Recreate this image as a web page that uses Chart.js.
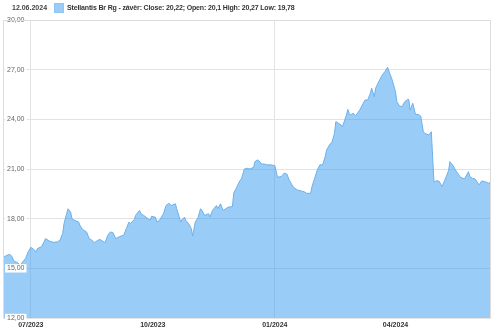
<!DOCTYPE html>
<html>
<head>
<meta charset="utf-8">
<script src="https://cdn.jsdelivr.net/npm/chart.js@4"></script>
<style>
  body { margin: 0; background: #fff; font-family: "Liberation Sans", Arial, sans-serif; }
  #wrap { position: relative; width: 500px; height: 330px; }
  #head { position: absolute; left: 0; top: 0; height: 16px; font-size: 7px; font-weight: bold; color: #333; }
  #head .date { position: absolute; left: 12px; top: 4px; color: #444; }
  #head .box { position: absolute; left: 54px; top: 3px; width: 8px; height: 8px; background: #99ccf6; border: 1px solid #8ec5f2; }
  #head .txt { position: absolute; left: 67px; top: 4px; white-space: nowrap; letter-spacing: -0.15px; }
</style>
</head>
<body>
<div id="wrap">
  <canvas id="stockChart" width="500" height="330"></canvas>
  <div id="head">
    <span class="date">12.06.2024</span>
    <span class="box"></span>
    <span class="txt" id="seriesName"></span>
  </div>
</div>
<script>
// series name as shown in the legend
const seriesName = 'Stellantis Br Rg - závěr: Close: 20,22; Open: 20,1 High: 20,27 Low: 19,78';

// day offsets from 10.06.2023 and closing prices
const days = [0, 2, 5, 7, 8, 11, 13, 14, 17, 19, 21, 23, 25, 26, 29, 31, 32, 35, 38, 41,
  43, 45, 46, 48, 49, 51, 52, 54, 57, 58, 60, 63, 65, 67, 69, 71, 73, 74, 77, 79,
  81, 83, 85, 87, 89, 91, 93, 95, 96, 99, 100, 103, 104, 106, 108, 111, 112, 115, 116, 118,
  121, 123, 125, 127, 130, 131, 134, 135, 137, 138, 140, 142, 143, 145, 147, 149, 150, 152, 155, 156,
  158, 161, 162, 164, 166, 168, 170, 173, 174, 176, 178, 180, 182, 184, 186, 189, 190, 192, 193, 195,
  197, 199, 202, 205, 207, 210, 212, 214, 216, 219, 222, 225, 227, 229, 232, 233, 235, 237, 239, 241,
  243, 244, 247, 248, 250, 251, 253, 255, 256, 259, 260, 261, 262, 264, 266, 269, 271, 273, 275, 277,
  278, 280, 281, 284, 286, 288, 290, 292, 293, 296, 297, 299, 301, 303, 305, 306, 307, 309, 311, 313,
  315, 317, 318, 321, 323, 325, 327, 329, 331, 333, 336, 337, 339, 342, 345, 348, 351, 352, 354, 356,
  359, 361, 364, 366, 368];
const closes = [15.65, 15.75, 15.85, 15.7, 15.45, 15.34, 15.2, 15.3, 15.6, 16.0, 16.27, 16.15, 16.0, 16.2, 16.3, 16.6, 16.8, 16.65, 16.57, 16.6,
  16.7, 17.1, 17.7, 18.3, 18.6, 18.4, 18.0, 17.9, 17.8, 17.6, 17.35, 17.2, 16.8, 16.7, 16.55, 16.67, 16.75, 16.7, 16.55, 17.0,
  17.2, 17.15, 16.8, 16.88, 16.95, 17.0, 17.4, 17.8, 17.7, 17.95, 18.2, 18.5, 18.3, 18.2, 18.08, 17.9, 18.15, 18.08, 17.8, 17.9,
  18.3, 18.8, 18.93, 18.8, 18.9, 18.6, 17.8, 17.95, 18.08, 17.88, 17.7, 17.4, 16.95, 17.8, 18.05, 18.6, 18.5, 18.2, 18.3, 18.1,
  18.5, 18.8, 18.6, 18.9, 18.5, 18.6, 18.7, 18.73, 19.55, 19.85, 20.2, 20.45, 21.0, 21.05, 21.0, 21.1, 21.45, 21.55, 21.5, 21.3,
  21.3, 21.25, 21.25, 21.2, 20.5, 20.55, 20.75, 20.7, 20.3, 19.9, 19.73, 19.67, 19.63, 19.53, 19.53, 19.93, 20.44, 20.94, 21.25, 21.25,
  21.75, 22.15, 22.55, 22.6, 23.16, 23.86, 23.76, 23.66, 23.56, 24.26, 24.6, 24.37, 24.26, 24.37, 24.22, 24.56, 24.87, 25.17, 25.17, 25.57,
  25.88, 25.37, 25.88, 26.38, 26.68, 26.88, 27.15, 26.7, 26.5, 25.67, 25.07, 24.8, 24.77, 25.07, 25.2, 25.2, 24.57, 24.97, 24.3, 24.3,
  24.2, 23.25, 23.16, 23.05, 23.25, 20.2, 20.3, 20.25, 19.93, 20.3, 20.9, 21.44, 21.24, 20.84, 20.5, 20.4, 20.84, 20.54, 20.44, 20.4,
  20.04, 20.28, 20.22, 20.14, 20.22];

// x axis ticks (month starts) and their labels
const tickDays = [21, 113, 205, 296];
const tickLabels = ['07/2023', '10/2023', '01/2024', '04/2024'];
const gridDays = [21, 205];

document.getElementById('seriesName').textContent = seriesName;

// light frame around the plot area
const frame = {
  id: 'frame',
  afterDraw(chart) {
    const { ctx, chartArea: a } = chart;
    ctx.save();
    ctx.strokeStyle = '#dcdcdc';
    ctx.lineWidth = 1;
    ctx.beginPath();
    ctx.moveTo(a.left + 0.5, a.bottom);
    ctx.lineTo(a.left + 0.5, a.top + 0.5);
    ctx.lineTo(a.right - 0.5, a.top + 0.5);
    ctx.lineTo(a.right - 0.5, a.bottom);
    ctx.stroke();
    ctx.restore();
  }
};

const ctx = document.getElementById('stockChart').getContext('2d');
new Chart(ctx, {
  type: 'line',
  data: {
    datasets: [{
      label: seriesName,
      data: days.map((d, i) => ({ x: d, y: closes[i] })),
      borderColor: '#6db0ea',
      borderWidth: 1,
      backgroundColor: 'rgba(51,153,240,0.5)',
      fill: 'start',
      pointRadius: 0,
      tension: 0
    }]
  },
  options: {
    responsive: false,
    animation: false,
    layout: { padding: { left: 3, right: 9, top: 20, bottom: 0 } },
    plugins: {
      legend: { display: false },
      tooltip: { enabled: false }
    },
    scales: {
      x: {
        type: 'linear',
        min: 0,
        max: 368,
        afterBuildTicks: s => { s.ticks = tickDays.map(v => ({ value: v })); },
        afterFit: s => { s.height = 12; },
        grid: {
          drawTicks: false,
          color: c => (c.tick && gridDays.includes(c.tick.value)) ? '#e3e3e3' : 'rgba(0,0,0,0)'
        },
        border: { display: false },
        ticks: {
          padding: 3,
          maxRotation: 0,
          autoSkip: false,
          color: '#333',
          font: { family: 'Liberation Sans', size: 7, weight: 'bold' },
          callback: v => tickLabels[tickDays.indexOf(v)]
        }
      },
      y: {
        min: 12,
        max: 30,
        afterFit: s => { s.width = 0; },
        grid: { drawTicks: false, color: '#e3e3e3' },
        border: { display: false },
        ticks: {
          stepSize: 3,
          mirror: true,
          padding: 4,
          z: 1,
          color: '#666',
          showLabelBackdrop: true,
          backdropColor: '#fff',
          backdropPadding: { top: 0, bottom: 0, left: 2, right: 2 },
          font: { family: 'Liberation Sans', size: 7 },
          callback: v => v.toFixed(2).replace('.', ',')
        }
      }
    }
  },
  plugins: [frame]
});
</script>
</body>
</html>
